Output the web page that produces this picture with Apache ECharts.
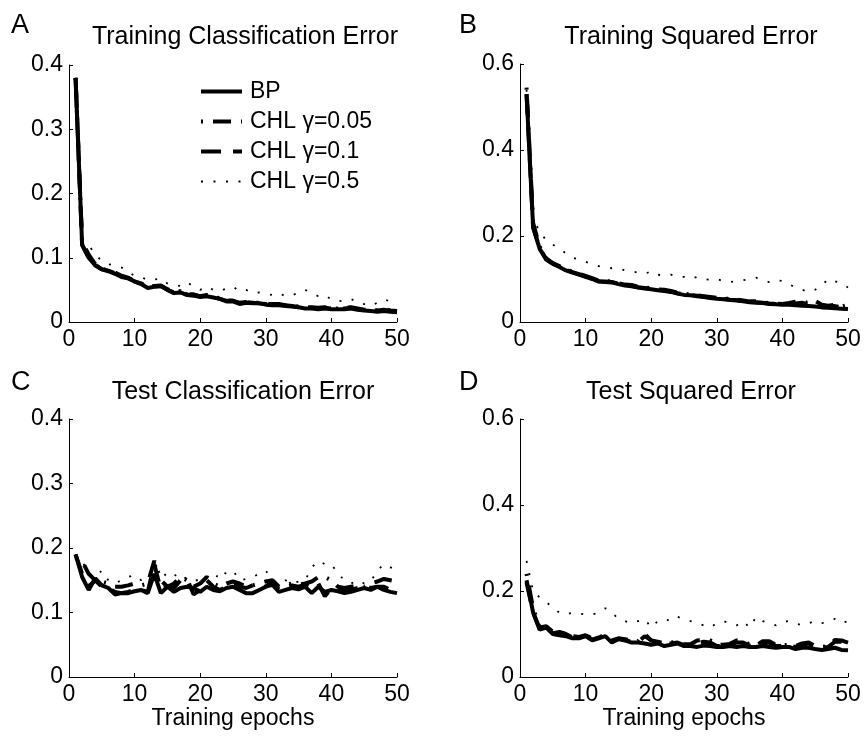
<!DOCTYPE html>
<html>
<head>
<meta charset="utf-8">
<script src="https://cdn.jsdelivr.net/npm/echarts@6/dist/echarts.min.js"></script>
<style>
html,body{margin:0;padding:0;background:#fff;}
#chart{width:866px;height:739px;}
</style>
</head>
<body>
<div id="chart"></div>
<script>
// ---- data (epochs 1..50) ----
const epochs = Array.from({length:50},(_,i)=>i+1);
const seriesNames = ['BP','CHL γ=0.05','CHL γ=0.1','CHL γ=0.5'];
const panelTitles = ['Training Classification Error','Training Squared Error','Test Classification Error','Test Squared Error'];
const panelLetters = ['A','B','C','D'];
const xTicks = [0,10,20,30,40,50];
const yMaxClass = 0.4, yMaxSq = 0.6;

// A: Training Classification Error
const bpA   = [0.38,0.12,0.10,0.088,0.082,0.079,0.075,0.070,0.068,0.063,0.059,0.053,0.055,0.056,0.050,0.045,0.046,0.042,0.041,0.039,0.040,0.038,0.036,0.032,0.032,0.028,0.030,0.029,0.029,0.027,0.026,0.026,0.025,0.024,0.023,0.021,0.021,0.020,0.021,0.020,0.020,0.020,0.021,0.019,0.018,0.017,0.016,0.017,0.016,0.015];
const c05A  = [0.38,0.125,0.105,0.090,0.083,0.080,0.077,0.072,0.069,0.064,0.060,0.055,0.056,0.057,0.051,0.047,0.048,0.043,0.043,0.040,0.042,0.039,0.037,0.034,0.033,0.030,0.031,0.030,0.030,0.028,0.028,0.028,0.026,0.025,0.024,0.023,0.023,0.022,0.023,0.021,0.021,0.022,0.023,0.021,0.019,0.019,0.018,0.020,0.018,0.017];
const c1A   = [0.38,0.12,0.10,0.089,0.082,0.080,0.076,0.071,0.068,0.063,0.060,0.054,0.055,0.056,0.050,0.046,0.047,0.043,0.042,0.040,0.041,0.039,0.036,0.033,0.033,0.029,0.031,0.030,0.029,0.028,0.027,0.027,0.026,0.025,0.023,0.022,0.022,0.021,0.022,0.021,0.020,0.021,0.022,0.020,0.019,0.018,0.018,0.019,0.017,0.016];
const c5A   = [0.38,0.125,0.12,0.105,0.095,0.090,0.088,0.085,0.078,0.072,0.070,0.065,0.066,0.068,0.060,0.058,0.056,0.062,0.055,0.050,0.055,0.050,0.048,0.052,0.055,0.048,0.050,0.045,0.046,0.044,0.042,0.045,0.040,0.042,0.045,0.050,0.045,0.040,0.042,0.035,0.032,0.034,0.036,0.030,0.028,0.025,0.030,0.035,0.032,0.025];

// B: Training Squared Error
const bpB   = [0.53,0.22,0.17,0.145,0.135,0.128,0.120,0.115,0.110,0.105,0.100,0.094,0.093,0.092,0.088,0.085,0.083,0.080,0.078,0.076,0.074,0.072,0.070,0.066,0.063,0.062,0.060,0.058,0.056,0.054,0.053,0.051,0.050,0.048,0.046,0.045,0.044,0.042,0.041,0.040,0.040,0.039,0.038,0.037,0.036,0.034,0.033,0.032,0.031,0.030];
const c05B  = [0.545,0.23,0.175,0.148,0.137,0.130,0.122,0.117,0.112,0.107,0.102,0.096,0.095,0.095,0.090,0.087,0.086,0.082,0.081,0.078,0.076,0.075,0.072,0.068,0.066,0.064,0.062,0.060,0.058,0.056,0.056,0.053,0.052,0.050,0.048,0.048,0.046,0.044,0.043,0.042,0.044,0.047,0.050,0.043,0.049,0.040,0.038,0.040,0.036,0.040];
const c1B   = [0.53,0.22,0.172,0.146,0.136,0.129,0.121,0.116,0.111,0.106,0.101,0.095,0.094,0.093,0.089,0.086,0.084,0.081,0.079,0.077,0.075,0.073,0.071,0.067,0.064,0.063,0.061,0.059,0.057,0.055,0.054,0.052,0.051,0.049,0.047,0.046,0.045,0.043,0.042,0.041,0.042,0.043,0.045,0.040,0.044,0.038,0.036,0.037,0.034,0.036];
const c5B   = [0.54,0.24,0.21,0.19,0.18,0.17,0.16,0.15,0.145,0.140,0.135,0.130,0.128,0.125,0.125,0.120,0.118,0.115,0.112,0.118,0.110,0.108,0.110,0.105,0.105,0.100,0.105,0.100,0.098,0.100,0.095,0.093,0.095,0.097,0.100,0.103,0.097,0.093,0.098,0.095,0.088,0.080,0.075,0.070,0.075,0.085,0.100,0.095,0.090,0.080];

// C: Test Classification Error
const bpC   = [0.19,0.155,0.135,0.153,0.142,0.138,0.128,0.130,0.130,0.133,0.135,0.130,0.160,0.130,0.140,0.132,0.138,0.140,0.138,0.132,0.140,0.135,0.133,0.138,0.140,0.135,0.130,0.130,0.135,0.140,0.143,0.132,0.135,0.138,0.136,0.140,0.130,0.140,0.132,0.135,0.133,0.130,0.132,0.135,0.138,0.135,0.140,0.135,0.132,0.130];
const c05C  = [0.185,0.180,0.160,0.150,0.148,0.145,0.140,0.140,0.142,0.145,0.142,0.145,0.180,0.150,0.140,0.145,0.155,0.150,0.140,0.145,0.155,0.145,0.140,0.145,0.148,0.145,0.140,0.142,0.145,0.148,0.150,0.140,0.142,0.145,0.143,0.145,0.148,0.155,0.155,0.150,0.140,0.138,0.140,0.142,0.140,0.145,0.148,0.152,0.150,0.148];
const c1C   = [0.19,0.16,0.14,0.150,0.140,0.138,0.132,0.130,0.132,0.135,0.135,0.132,0.175,0.135,0.140,0.138,0.150,0.152,0.128,0.135,0.150,0.140,0.135,0.140,0.145,0.140,0.138,0.142,0.145,0.140,0.148,0.135,0.140,0.142,0.140,0.143,0.138,0.145,0.125,0.138,0.135,0.133,0.135,0.138,0.142,0.138,0.140,0.140,0.135,0.132];
const c5C   = [0.19,0.18,0.16,0.155,0.165,0.150,0.145,0.150,0.155,0.158,0.150,0.155,0.175,0.165,0.155,0.160,0.150,0.155,0.150,0.150,0.148,0.145,0.165,0.160,0.165,0.150,0.152,0.155,0.160,0.165,0.150,0.145,0.150,0.145,0.148,0.150,0.170,0.180,0.175,0.175,0.160,0.150,0.145,0.150,0.145,0.148,0.165,0.175,0.170,0.165];

// D: Test Squared Error
const bpD   = [0.225,0.150,0.110,0.115,0.100,0.097,0.095,0.090,0.090,0.095,0.085,0.090,0.095,0.080,0.088,0.085,0.080,0.080,0.078,0.075,0.078,0.072,0.075,0.078,0.072,0.072,0.070,0.073,0.072,0.070,0.070,0.072,0.070,0.072,0.070,0.070,0.072,0.070,0.068,0.070,0.070,0.065,0.068,0.068,0.065,0.063,0.065,0.068,0.063,0.062];
const c05D  = [0.240,0.160,0.115,0.118,0.105,0.105,0.100,0.095,0.093,0.097,0.090,0.093,0.097,0.085,0.090,0.088,0.085,0.083,0.100,0.085,0.082,0.078,0.080,0.082,0.076,0.076,0.085,0.086,0.085,0.075,0.075,0.077,0.085,0.084,0.076,0.074,0.083,0.083,0.075,0.074,0.075,0.072,0.078,0.080,0.072,0.070,0.072,0.086,0.085,0.080];
const c1D   = [0.220,0.150,0.112,0.116,0.102,0.105,0.100,0.092,0.091,0.096,0.087,0.092,0.096,0.082,0.089,0.086,0.082,0.081,0.095,0.085,0.080,0.075,0.078,0.080,0.074,0.074,0.078,0.082,0.080,0.072,0.072,0.075,0.080,0.080,0.073,0.072,0.078,0.080,0.072,0.072,0.073,0.070,0.075,0.078,0.070,0.068,0.070,0.082,0.082,0.078];
const c5D   = [0.270,0.200,0.185,0.175,0.160,0.150,0.145,0.150,0.148,0.145,0.145,0.150,0.160,0.150,0.135,0.130,0.125,0.130,0.135,0.115,0.130,0.135,0.130,0.140,0.135,0.130,0.125,0.120,0.115,0.125,0.130,0.125,0.120,0.130,0.115,0.140,0.130,0.125,0.120,0.128,0.130,0.125,0.120,0.125,0.130,0.125,0.130,0.135,0.125,0.130];

const panelData = [[bpA,c05A,c1A,c5A],[bpB,c05B,c1B,c5B],[bpC,c05C,c1C,c5C],[bpD,c05D,c1D,c5D]];
const panelYMax = [yMaxClass,yMaxSq,yMaxClass,yMaxSq];

// ---- styling / layout ----
const FONT = 'Liberation Sans, Arial, sans-serif';
const FS = 23;
const grids = [
  {left:69, top:65, width:328, height:257},
  {left:520, top:64, width:328, height:258},
  {left:69, top:419, width:328, height:258},
  {left:520, top:419, width:328, height:258}
];
const lineStyles = [
  {width:4, type:'solid'},
  {width:4, type:[2,10,18,10]},
  {width:4, type:[20,12]},
  {width:1.8, type:[2,10.5]}
];

const xAxes = grids.map((g,i)=>({
  type:'value', gridIndex:i, min:0, max:50, interval:10,
  axisLine:{lineStyle:{color:'#000',width:1}},
  axisTick:{inside:true,length:4,lineStyle:{color:'#000'}},
  axisLabel:{color:'#000',fontSize:FS,fontFamily:FONT,margin:6},
  splitLine:{show:false},
  name: i>=2 ? 'Training epochs' : '',
  nameLocation:'middle', nameGap:29,
  nameTextStyle:{color:'#000',fontSize:FS,fontFamily:FONT,verticalAlign:'top'}
}));
const yAxes = grids.map((g,i)=>({
  type:'value', gridIndex:i, min:0, max:panelYMax[i], interval:panelYMax[i]===0.4?0.1:0.2,
  axisLine:{show:true,lineStyle:{color:'#000',width:1}},
  axisTick:{show:true,inside:true,length:4,lineStyle:{color:'#000'}},
  axisLabel:{color:'#000',fontSize:FS,fontFamily:FONT,margin:6},
  splitLine:{show:false}
}));

const series = [];
panelData.forEach((arrs,p)=>{
  arrs.forEach((vals,k)=>{
    series.push({
      type:'line', name:seriesNames[k], xAxisIndex:p, yAxisIndex:p,
      data: epochs.map((e,j)=>[e,vals[j]]),
      symbol:'none', showSymbol:false, animation:false, z: 10-k,
      lineStyle:Object.assign({color:'#000'}, lineStyles[k]),
      itemStyle:{color:'#000'}
    });
  });
});

const titleCenters = [[245,37],[691,37],[243,392],[691,392]];
const letterPos = [[11,26],[459,26],[11,383],[459,383]];
const graphics = [];
panelTitles.forEach((t,i)=>{
  graphics.push({type:'text', x:titleCenters[i][0], y:titleCenters[i][1],
    style:{text:t, fill:'#000', font:'25px '+FONT, align:'center', verticalAlign:'middle'}});
  graphics.push({type:'text', x:letterPos[i][0], y:letterPos[i][1],
    style:{text:panelLetters[i], fill:'#000', font:'27px '+FONT, align:'left', verticalAlign:'middle'}});
});

const chart = echarts.init(document.getElementById('chart'), null, {renderer:'canvas'});
chart.setOption({
  backgroundColor:'#fff',
  animation:false,
  grid: grids,
  xAxis: xAxes,
  yAxis: yAxes,
  legend:{
    data: seriesNames.map((n,k)=>({name:n, lineStyle:{width:lineStyles[k].width, type:lineStyles[k].type, color:'#000'}})),
    orient:'vertical', left:194, top:75,
    itemWidth:41, itemHeight:14, itemGap:7,
    itemStyle:{opacity:0},
    textStyle:{color:'#000',fontSize:FS,fontFamily:FONT,padding:[0,0,0,3]},
    selectedMode:false
  },
  graphic: graphics,
  series: series
});
</script>
</body>
</html>
